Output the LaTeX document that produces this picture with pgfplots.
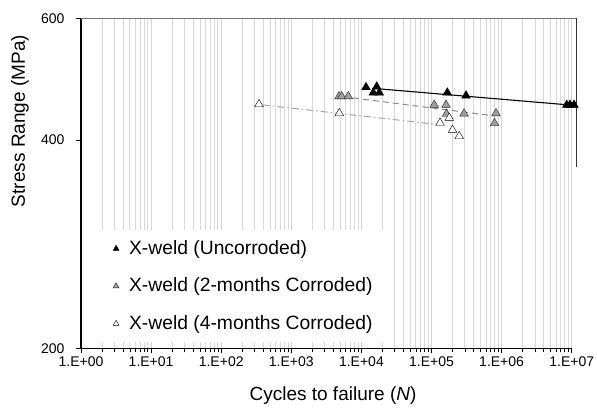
\documentclass[border=0pt]{standalone}
\usepackage{fontspec}
\setmainfont{Liberation Sans}
\usepackage{pgfplots}
\pgfplotsset{compat=1.18}
\begin{document}
\begin{tikzpicture}[x=1pt,y=1pt]
\begin{axis}[
  at={(0,0)}, anchor=south west,
  scale only axis, width=495.7pt, height=330.2pt,
  xmode=log, ymode=log,
  xmin=1, xmax=1.178e7, ymin=200, ymax=600,
  xtick={1,10,100,1000,10000,100000,1000000,10000000},
  xticklabels={1.E+00,1.E+01,1.E+02,1.E+03,1.E+04,1.E+05,1.E+06,1.E+07},
  minor xtick={2,3,4,5,6,7,8,9,20,30,40,50,60,70,80,90,200,300,400,500,600,700,800,900,2000,3000,4000,5000,6000,7000,8000,9000,20000,30000,40000,50000,60000,70000,80000,90000,2e5,3e5,4e5,5e5,6e5,7e5,8e5,9e5,2e6,3e6,4e6,5e6,6e6,7e6,8e6,9e6},
  ytick={200,400,600}, yticklabels={200,400,600},
  minor ytick={},
  tick pos=left, tick align=outside,
  major tick length=5pt, minor tick length=4pt,
  tick style={black, line width=0.9pt},
  xmajorgrids, xminorgrids,
  major grid style={draw=black!17, line width=1pt},
  minor grid style={draw=black!15, line width=1pt},
  axis line style={draw=none},
  tick label style={font=\fontsize{14}{16}\selectfont},
  yticklabel style={xshift=-8pt},
  xlabel={Cycles to failure (\textit{N})},
  ylabel={Stress Range (MPa)},
  every axis x label/.style={at={(axis description cs:0.5084,-0.1439)}, anchor=center, font=\fontsize{19}{22}\selectfont},
  every axis y label/.style={at={(axis description cs:-0.1231,0.689)}, anchor=center, rotate=90, font=\fontsize{19}{22}\selectfont},
  legend style={at={(axis description cs:0.0403,0.3589)}, anchor=north west,
    draw=none, fill=white, inner xsep=12pt, inner ysep=8pt,
    row sep=16.5pt, column sep=10pt,
    font=\fontsize{19.3}{22}\selectfont,
    nodes={inner sep=0pt, text height=16pt, text depth=5pt}},
  legend cell align=left,
  clip=false,
]
% trend lines
\addplot[black, line width=1.1pt, forget plot] coordinates {(18420,474.3) (1.043e7,449.2)};
\addplot[black!45, line width=1pt, dash pattern=on 6pt off 4pt, forget plot] coordinates {(7590,460.3) (805200,433.5)};
\addplot[black!35, line width=1pt, dash pattern=on 7pt off 3pt on 1.5pt off 3pt, forget plot] coordinates {(394.8,449.7) (123800,421.4)};
% data
\addplot[only marks, mark=triangle*, mark size=5pt, mark options={fill=black, draw=black},
  legend image code/.code={\draw[mark size=3.4pt] plot coordinates {(0pt,0pt)};}]
  coordinates {(11630,476.9) (16530,477.9) (14780,468.4) (18000,468.4) (168100,468.4) (310600,463.8) (8.49e6,449.7) (9.46e6,449.7) (1.079e7,449.7)};
\addlegendentry{X-weld (Uncorroded)}
\addplot[only marks, mark=triangle*, mark size=5pt, mark options={fill=black!38, draw=black!85},
  legend image code/.code={\draw[mark size=3.4pt] plot coordinates {(0pt,0pt)};}]
  coordinates {(4792,462.6) (5236,462.6) (6504,462.6) (109300,449.7) (161000,449.7) (163700,436.4) (290800,436.9) (832000,437.2) (792000,423.1)};
\addlegendentry{X-weld (2-months Corroded)}
\addplot[only marks, mark=triangle*, mark size=5pt, mark options={fill=white, draw=black},
  legend image code/.code={\draw[mark size=3.4pt] plot coordinates {(0pt,0pt)};}]
  coordinates {(346,450.7) (4839,437.4) (132200,423.5) (179500,430.7) (199400,413.8) (248400,405.2)};
\addlegendentry{X-weld (4-months Corroded)}
% axis frame
\draw[black, line width=1.4pt] (rel axis cs:0,0) -- (rel axis cs:0,1);
\draw[black, line width=1.2pt] (axis cs:1,200) -- (axis cs:1e7,200);
\draw[black!55, line width=1.1pt] (rel axis cs:0,1) -- (rel axis cs:1,1);
\draw[black!80, line width=1.2pt] (rel axis cs:1,0.55) -- (rel axis cs:1,1);
\end{axis}
\pgfresetboundingbox
\useasboundingbox (-81pt,-60.5pt) rectangle (516pt,348.5pt);
\end{tikzpicture}
\end{document}
